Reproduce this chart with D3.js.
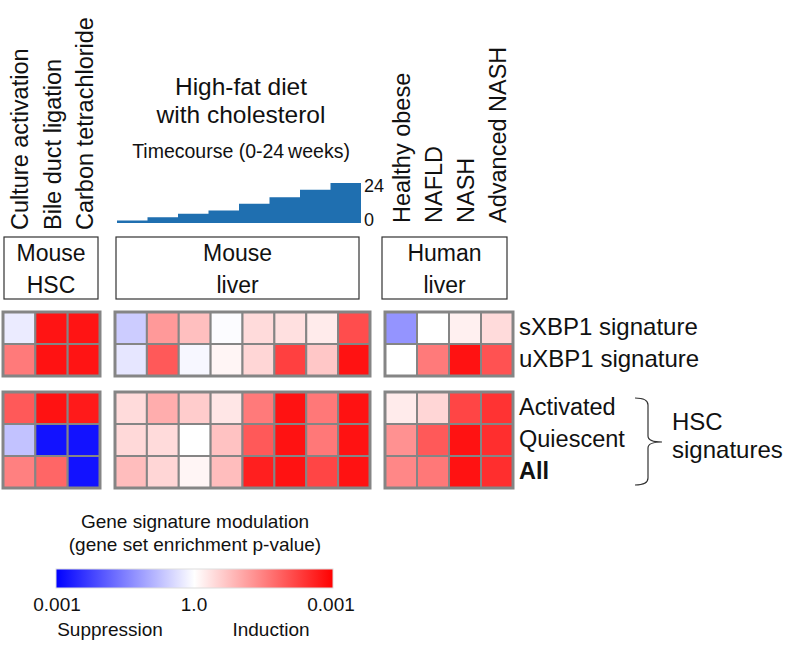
<!DOCTYPE html>
<html><head><meta charset="utf-8">
<script src="https://cdn.jsdelivr.net/npm/d3@7"></script>
<style>body{margin:0;background:#fff}svg{display:block;font-family:"Liberation Sans",Arial,sans-serif}</style>
</head><body>
<script>
// ---- data ----
const hscCols = ["Culture activation","Bile duct ligation","Carbon tetrachloride"];
const humanCols = ["Healthy obese","NAFLD","NASH","Advanced NASH"];
const timeWeeks = [1.5,3.5,5.5,7.5,11.5,15.5,20,24];
const timeTicks = [0,24];
const rowsTop = ["sXBP1 signature","uXBP1 signature"];
const rowsBottom = ["Activated","Quiescent","All"];
// signed modulation: -1 = suppression p=0.001, 0 = p=1.0, +1 = induction p=0.001
const hscTop = [[-0.08,0.92,0.92],[0.52,0.93,0.92]];
const liverTop = [[-0.2,0.4,0.25,-0.01,0.14,0.12,0.08,0.7],[-0.1,0.65,-0.03,0.04,0.16,0.75,0.22,0.93]];
const humanTop = [[-0.42,0,0.06,0.14],[0,0.52,0.93,0.68]];
const hscBottom = [[0.65,0.93,0.9],[-0.24,-0.93,-0.93],[0.5,0.6,-0.93]];
const liverBottom = [[0.14,0.32,0.2,0.1,0.52,0.93,0.53,0.93],[0.15,0.14,0,0.24,0.65,0.93,0.53,0.93],[0.26,0.16,0.04,0.26,0.88,0.93,0.73,0.93]];
const humanBottom = [[0.08,0.16,0.73,0.8],[0.43,0.65,0.93,0.82],[0.47,0.53,0.93,0.82]];
const legendTicks = ["0.001","1.0","0.001"];

const W=787,H=646;
const svg=d3.select("body").append("svg").attr("width",W).attr("height",H);
const color=d3.scaleLinear().domain([-1,0,1]).range(["#0000ff","#ffffff","#ff0000"]);

const xH=d3.scaleBand().domain(d3.range(3)).range([3,100]);
const xL=d3.scaleBand().domain(d3.range(8)).range([115,370]);
const xU=d3.scaleBand().domain(d3.range(4)).range([385,513]);
const yT=d3.scaleBand().domain(d3.range(2)).range([312,376]);
const yB=d3.scaleBand().domain(d3.range(3)).range([392,488]);

function block(data,x,y){
  const g=svg.append("g");
  data.forEach((row,r)=>row.forEach((v,c)=>{
    g.append("rect").attr("x",x(c)).attr("y",y(r)).attr("width",x.bandwidth()).attr("height",y.bandwidth())
     .attr("fill",color(v)).attr("stroke","#858585").attr("stroke-width",2);
  }));
  g.append("rect").attr("x",x.range()[0]).attr("y",y.range()[0]).attr("width",x.range()[1]-x.range()[0]).attr("height",y.range()[1]-y.range()[0])
   .attr("fill","none").attr("stroke","#858585").attr("stroke-width",3);
}
block(hscTop,xH,yT);block(liverTop,xL,yT);block(humanTop,xU,yT);
block(hscBottom,xH,yB);block(liverBottom,xL,yB);block(humanBottom,xU,yB);

// rotated column labels
function colLabels(cols,x,yStart){
  cols.forEach((t,i)=>{
    const cx=x(i)+x.bandwidth()/2+9;
    svg.append("text").attr("transform",`translate(${cx},${yStart}) rotate(-90)`).attr("font-size",23.5).attr("fill","#111").text(t);
  });
}
colLabels(hscCols,xH,230);
colLabels(humanCols,xU,223);

// header boxes
function hbox(x0,x1,l1,l2){
  svg.append("rect").attr("x",x0).attr("y",237).attr("width",x1-x0).attr("height",62).attr("fill","none").attr("stroke","#333").attr("stroke-width",1.2);
  const cx=(x0+x1)/2;
  svg.append("text").attr("x",cx).attr("y",261).attr("text-anchor","middle").attr("font-size",23).attr("fill","#111").text(l1);
  svg.append("text").attr("x",cx).attr("y",293).attr("text-anchor","middle").attr("font-size",23).attr("fill","#111").text(l2);
}
hbox(4,98,"Mouse","HSC");
hbox(116,359,"Mouse","liver");
hbox(382,507,"Human","liver");

// timecourse
svg.append("text").attr("x",241).attr("y",95).attr("text-anchor","middle").attr("font-size",24.5).attr("fill","#111").text("High-fat diet");
svg.append("text").attr("x",241).attr("y",123).attr("text-anchor","middle").attr("font-size",24.5).attr("fill","#111").text("with cholesterol");
svg.append("text").attr("x",241).attr("y",158).attr("text-anchor","middle").attr("font-size",19.5).attr("fill","#111").text("Timecourse (0-24\u2009weeks)");
const xT=d3.scaleBand().domain(d3.range(timeWeeks.length)).range([117,361]);
const yTc=d3.scaleLinear().domain([0,24]).range([223,183]);
const area=d3.area().curve(d3.curveStepAfter).x(d=>d[0]).y0(yTc(0)).y1(d=>yTc(d[1]));
const pts=timeWeeks.map((w,i)=>[xT(i),w]);pts.push([xT.range()[1],timeWeeks[timeWeeks.length-1]]);
svg.append("path").attr("d",area(pts)).attr("fill","#1f6fb0");
svg.selectAll(".tt").data(timeTicks).enter().append("text").attr("x",364).attr("y",d=>yTc(d)+(d===0?3:9)).attr("font-size",18).attr("fill","#111").text(d=>d);

// row labels
rowsTop.forEach((t,i)=>svg.append("text").attr("x",519).attr("y",yT(i)+yT.bandwidth()/2+7).attr("font-size",24).attr("fill","#111").text(t));
rowsBottom.forEach((t,i)=>svg.append("text").attr("x",519).attr("y",yB(i)+yB.bandwidth()/2+7).attr("font-size",23.5).attr("fill","#111").attr("font-weight",t==="All"?"bold":"normal").text(t));

// bracket
svg.append("path").attr("d","M635,398 Q648,398 648,405 L648,436 Q648,442 662,442 Q648,442 648,448 L648,478 Q648,485 635,485")
  .attr("fill","none").attr("stroke","#333").attr("stroke-width",1.2);
svg.append("text").attr("x",672).attr("y",430).attr("font-size",24).attr("fill","#111").text("HSC");
svg.append("text").attr("x",672).attr("y",458).attr("font-size",24).attr("fill","#111").text("signatures");

// legend
svg.append("text").attr("x",195).attr("y",528).attr("text-anchor","middle").attr("font-size",19).attr("fill","#111").text("Gene signature modulation");
svg.append("text").attr("x",195).attr("y",551).attr("text-anchor","middle").attr("font-size",19).attr("fill","#111").text("(gene set enrichment p-value)");
const defs=svg.append("defs");
const grad=defs.append("linearGradient").attr("id","lg");
[-1,-0.5,0,0.5,1].forEach((v,i)=>grad.append("stop").attr("offset",(i*25)+"%").attr("stop-color",color(v)));
const xLeg=d3.scalePoint().domain([0,1,2]).range([57,331]);
svg.append("rect").attr("x",56).attr("y",569).attr("width",277).attr("height",19).attr("fill","url(#lg)").attr("stroke","#ddd").attr("stroke-width",1);
legendTicks.forEach((t,i)=>svg.append("text").attr("x",xLeg(i)).attr("y",611).attr("text-anchor","middle").attr("font-size",19).attr("fill","#111").text(t));
svg.append("text").attr("x",110).attr("y",636).attr("text-anchor","middle").attr("font-size",19).attr("fill","#111").text("Suppression");
svg.append("text").attr("x",271).attr("y",636).attr("text-anchor","middle").attr("font-size",19).attr("fill","#111").text("Induction");
</script>
</body></html>
